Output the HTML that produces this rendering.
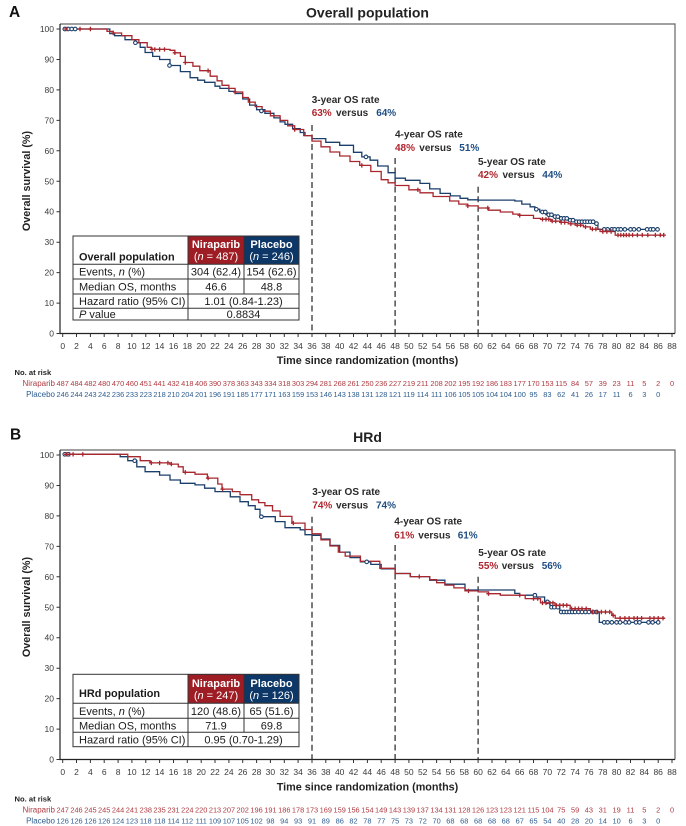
<!DOCTYPE html>
<html>
<head>
<meta charset="utf-8">
<style>
html,body{margin:0;padding:0;background:#fff;}
svg{display:block;}
text{font-family:"Liberation Sans",Arial,sans-serif;}
</style>
</head>
<body>
<svg width="686" height="826" viewBox="0 0 686 826" xmlns="http://www.w3.org/2000/svg">
<defs>
<path id="pl" d="M-2.2 0h4.4M0 -2.2v4.4" stroke="#a8262e" stroke-width="1.3" fill="none"/>
</defs>
<rect width="686" height="826" fill="#fff"/>

<!-- ================= PANEL A ================= -->
<text x="9" y="17" font-size="15.5" font-weight="bold" fill="#111">A</text>
<text x="367.5" y="17.5" font-size="14" font-weight="bold" fill="#222" text-anchor="middle">Overall population</text>

<!-- frame -->
<path d="M60 24H675V333.5" fill="none" stroke="#666" stroke-width="1.2"/>
<path d="M60 24V333.5H675" fill="none" stroke="#222" stroke-width="1.2"/>

<!-- y ticks -->
<path d="M56.5 29h3.5M56.5 59.5h3.5M56.5 89.9h3.5M56.5 120.4h3.5M56.5 150.8h3.5M56.5 181.3h3.5M56.5 211.7h3.5M56.5 242.2h3.5M56.5 272.6h3.5M56.5 303.1h3.5M56.5 333.5h3.5" stroke="#333" stroke-width="1"/>
<g font-size="8.5" fill="#3a3a3a" text-anchor="end">
<text x="54" y="32">100</text><text x="54" y="62.5">90</text><text x="54" y="92.9">80</text><text x="54" y="123.4">70</text><text x="54" y="153.8">60</text><text x="54" y="184.3">50</text><text x="54" y="214.7">40</text><text x="54" y="245.2">30</text><text x="54" y="275.6">20</text><text x="54" y="306.1">10</text><text x="54" y="336.5">0</text>
</g>
<text transform="translate(30,181) rotate(-90)" font-size="10.8" font-weight="bold" fill="#222" text-anchor="middle">Overall survival (%)</text>

<!-- x ticks -->
<path transform="translate(0,333.5)" d="M62.7 0v3.5M76.5 0v3.5M90.4 0v3.5M104.2 0v3.5M118.1 0v3.5M131.9 0v3.5M145.8 0v3.5M159.6 0v3.5M173.5 0v3.5M187.3 0v3.5M201.2 0v3.5M215 0v3.5M228.9 0v3.5M242.7 0v3.5M256.6 0v3.5M270.4 0v3.5M284.3 0v3.5M298.1 0v3.5M312 0v3.5M325.8 0v3.5M339.7 0v3.5M353.5 0v3.5M367.4 0v3.5M381.2 0v3.5M395.1 0v3.5M408.9 0v3.5M422.7 0v3.5M436.6 0v3.5M450.4 0v3.5M464.3 0v3.5M478.1 0v3.5M492 0v3.5M505.8 0v3.5M519.7 0v3.5M533.5 0v3.5M547.4 0v3.5M561.2 0v3.5M575.1 0v3.5M588.9 0v3.5M602.8 0v3.5M616.6 0v3.5M630.5 0v3.5M644.3 0v3.5M658.2 0v3.5M672 0v3.5" stroke="#333" stroke-width="1"/>
<text y="349" font-size="8.5" fill="#3a3a3a" text-anchor="middle"><tspan x="62.7">0</tspan><tspan x="76.5">2</tspan><tspan x="90.4">4</tspan><tspan x="104.2">6</tspan><tspan x="118.1">8</tspan><tspan x="131.9">10</tspan><tspan x="145.8">12</tspan><tspan x="159.6">14</tspan><tspan x="173.5">16</tspan><tspan x="187.3">18</tspan><tspan x="201.2">20</tspan><tspan x="215">22</tspan><tspan x="228.9">24</tspan><tspan x="242.7">26</tspan><tspan x="256.6">28</tspan><tspan x="270.4">30</tspan><tspan x="284.3">32</tspan><tspan x="298.1">34</tspan><tspan x="312">36</tspan><tspan x="325.8">38</tspan><tspan x="339.7">40</tspan><tspan x="353.5">42</tspan><tspan x="367.4">44</tspan><tspan x="381.2">46</tspan><tspan x="395.1">48</tspan><tspan x="408.9">50</tspan><tspan x="422.7">52</tspan><tspan x="436.6">54</tspan><tspan x="450.4">56</tspan><tspan x="464.3">58</tspan><tspan x="478.1">60</tspan><tspan x="492">62</tspan><tspan x="505.8">64</tspan><tspan x="519.7">66</tspan><tspan x="533.5">68</tspan><tspan x="547.4">70</tspan><tspan x="561.2">72</tspan><tspan x="575.1">74</tspan><tspan x="588.9">76</tspan><tspan x="602.8">78</tspan><tspan x="616.6">80</tspan><tspan x="630.5">82</tspan><tspan x="644.3">84</tspan><tspan x="658.2">86</tspan><tspan x="672">88</tspan></text>
<text x="367.5" y="364" font-size="10.8" font-weight="bold" fill="#222" text-anchor="middle">Time since randomization (months)</text>

<!-- dashed lines -->
<g stroke="#222" stroke-width="1.2" stroke-dasharray="6 3.5" fill="none">
<path d="M312 125V333.5"/><path d="M395.1 158V333.5"/><path d="M478.1 186.7V333.5"/>
</g>

<!-- annotations -->
<g font-size="10" font-weight="bold">
<text x="311.7" y="102.8" fill="#2a2a2a">3-year OS rate</text>
<text y="116.2"><tspan x="311.7" fill="#b0262e">63%</tspan><tspan x="336" fill="#2a2a2a">versus</tspan><tspan x="376.2" fill="#1f4e84">64%</tspan></text>
<text x="395" y="137.5" fill="#2a2a2a">4-year OS rate</text>
<text y="150.8"><tspan x="395" fill="#b0262e">48%</tspan><tspan x="419.3" fill="#2a2a2a">versus</tspan><tspan x="459.3" fill="#1f4e84">51%</tspan></text>
<text x="478" y="165.2" fill="#2a2a2a">5-year OS rate</text>
<text y="177.8"><tspan x="478" fill="#b0262e">42%</tspan><tspan x="502.5" fill="#2a2a2a">versus</tspan><tspan x="542.3" fill="#1f4e84">44%</tspan></text>
</g>

<!-- curves A -->
<path fill="none" stroke="#1a3f6b" stroke-width="1.3" d="M62.7 29H109.8V33.6H114.6V35.7H125V39.7H135.4V42.7H140.2V47.3H145.1V52.5H152.7V56.4H159.6V59.5H170V65.5H180.4V71.6H190.1V77.7H197.7V80.2H204.6V82.3H215V86.2H219.9V88.4H228.9V91.4H235.1V93.5H242.7V99H249.6V105.1H256.6V109.7H264.9V113.3H273.9V117.9H280.1V121.9H285V124.3H292.6V128.6H300.2V132.5H305V135.6H312V138.6H325.8V142.3H339.7V145.3H353.5V152.3H361.8V156.9H370.1V160.2H377.7V166H388.1V172.7H395.1V178.2H405.4V180.3H420V183.4H429.7V188.9H440.1V193.4H450.4V195.9H460.1V198.3H467.8V199.8H478.1V200.1H514.8V201H521.8V204.1H530.1V206.8H534.9V209.3H539.8V212H546V214.7H552.9V216.6H559.8V218.4H568.2V220.2H575.1V221.7H594.5V223.6H597.9V229.4H657.5"/>
<path fill="none" stroke="#a8262e" stroke-width="1.3" d="M62.7 29H107V31.4H113.2V33H121.6V35.7H131.9V39.7H138.9V42.7H147.2V47.3H151.3V49.4H170V50.3H174.9V52.8H180.4V56.4H185.3V62.5H192.9V66.2H199.8V70.7H210.2V76.2H217.1V80.8H222V85.3H228.9V88.4H235.1V92H242.7V97.5H248.3V102.1H255.2V106.6H262.1V111.2H270.4V115.8H280.1V120.4H287.7V125.8H294.7V129.5H303.7V135.6H312V141.1H321V146.8H330V152H339.7V156H350V161.5H359.7V165.4H370.8V171.5H381.2V179.7H388.1V182.8H395.1V185.5H408.9V189.8H420V192.8H433.1V196.5H449.7V201H458.8V204.1H467.8V205.9H478.1V208H488.5V210.2H500.3V212H512.8V214.1H519.7V215.4H533.5V218.4H540.5V219.3H550.8V221.1H559.8V222.4H568.2V223.9H575.1V225.1H583.4V226.9H590.3V229.1H600V231.5H615.2V235.1H663.7"/>

<!-- markers A -->
<g fill="#fff" stroke="#1a3f6b" stroke-width="1.1">
<circle cx="64.8" cy="29" r="1.8"/><circle cx="68.2" cy="29" r="1.8"/><circle cx="71.7" cy="29" r="1.8"/><circle cx="75.2" cy="29" r="1.8"/><circle cx="135.4" cy="42.7" r="1.8"/><circle cx="169.5" cy="65.5" r="1.8"/><circle cx="261.4" cy="111" r="1.8"/><circle cx="366" cy="156.9" r="1.8"/><circle cx="536.3" cy="209.3" r="1.8"/><circle cx="542.5" cy="212" r="1.8"/><circle cx="545.3" cy="212" r="1.8"/><circle cx="548.8" cy="214.7" r="1.8"/><circle cx="551.5" cy="214.7" r="1.8"/><circle cx="555" cy="216.6" r="1.8"/><circle cx="557.8" cy="216.6" r="1.8"/><circle cx="561.2" cy="218.4" r="1.8"/><circle cx="564" cy="218.4" r="1.8"/><circle cx="566.8" cy="218.4" r="1.8"/><circle cx="570.2" cy="220.2" r="1.8"/><circle cx="573" cy="220.2" r="1.8"/><circle cx="576.5" cy="221.7" r="1.8"/><circle cx="579.2" cy="221.7" r="1.8"/><circle cx="582" cy="221.7" r="1.8"/><circle cx="584.8" cy="221.7" r="1.8"/><circle cx="587.5" cy="221.7" r="1.8"/><circle cx="590.3" cy="221.7" r="1.8"/><circle cx="593.1" cy="221.7" r="1.8"/><circle cx="596.5" cy="223.6" r="1.8"/><circle cx="604.2" cy="229.4" r="1.8"/><circle cx="607.6" cy="229.4" r="1.8"/><circle cx="611.8" cy="229.4" r="1.8"/><circle cx="614.6" cy="229.4" r="1.8"/><circle cx="618" cy="229.4" r="1.8"/><circle cx="620.8" cy="229.4" r="1.8"/><circle cx="624.9" cy="229.4" r="1.8"/><circle cx="630.5" cy="229.4" r="1.8"/><circle cx="634" cy="229.4" r="1.8"/><circle cx="638.8" cy="229.4" r="1.8"/><circle cx="647.1" cy="229.4" r="1.8"/><circle cx="650.6" cy="229.4" r="1.8"/><circle cx="653.3" cy="229.4" r="1.8"/><circle cx="657.5" cy="229.4" r="1.8"/>
</g>
<g>
<use href="#pl" x="66" y="29"/><use href="#pl" x="80" y="29"/><use href="#pl" x="90.4" y="29"/><use href="#pl" x="113.2" y="33"/><use href="#pl" x="152" y="49.4"/><use href="#pl" x="154.8" y="49.4"/><use href="#pl" x="159.6" y="49.4"/><use href="#pl" x="164.5" y="49.4"/><use href="#pl" x="174.9" y="52.8"/><use href="#pl" x="185.3" y="62.5"/><use href="#pl" x="208.1" y="70.7"/><use href="#pl" x="235.1" y="92"/><use href="#pl" x="294.7" y="129.5"/><use href="#pl" x="361.8" y="165.4"/><use href="#pl" x="417.9" y="189.8"/><use href="#pl" x="467.8" y="205.9"/><use href="#pl" x="487.8" y="208"/><use href="#pl" x="519.7" y="215.4"/><use href="#pl" x="542.5" y="219.3"/><use href="#pl" x="546" y="219.3"/><use href="#pl" x="548.8" y="219.3"/><use href="#pl" x="552.2" y="221.1"/><use href="#pl" x="555.7" y="221.1"/><use href="#pl" x="561.2" y="222.4"/><use href="#pl" x="564.7" y="222.4"/><use href="#pl" x="570.9" y="223.9"/><use href="#pl" x="577.2" y="225.1"/><use href="#pl" x="580.6" y="225.1"/><use href="#pl" x="585.5" y="226.9"/><use href="#pl" x="592.4" y="229.1"/><use href="#pl" x="595.9" y="229.1"/><use href="#pl" x="602.8" y="231.5"/><use href="#pl" x="606.9" y="231.5"/><use href="#pl" x="611.1" y="231.5"/><use href="#pl" x="618" y="235.1"/><use href="#pl" x="620.8" y="235.1"/><use href="#pl" x="623.6" y="235.1"/><use href="#pl" x="626.3" y="235.1"/><use href="#pl" x="629.1" y="235.1"/><use href="#pl" x="632.6" y="235.1"/><use href="#pl" x="637.4" y="235.1"/><use href="#pl" x="642.3" y="235.1"/><use href="#pl" x="647.8" y="235.1"/><use href="#pl" x="655.4" y="235.1"/><use href="#pl" x="660.3" y="235.1"/><use href="#pl" x="663.7" y="235.1"/>
</g>

<!-- table A -->
<rect x="73" y="236" width="226" height="84" fill="#fff"/>
<rect x="188" y="236" width="56" height="28.3" fill="#9e1c24"/>
<rect x="244" y="236" width="55" height="28.3" fill="#0c3766"/>
<g stroke="#333" stroke-width="1" fill="none">
<rect x="73" y="236" width="226" height="84"/>
<path d="M73 264.3H299M73 279H299M73 294H299M73 308.3H299M188 236V320M244 236V294"/>
</g>
<g font-size="11" fill="#1a1a1a">
<text x="79" y="260.5" font-weight="bold" font-size="10.9">Overall population</text>
<text x="216" y="248" font-weight="bold" fill="#fff" text-anchor="middle">Niraparib</text>
<text x="216" y="260" fill="#fff" text-anchor="middle">(<tspan font-style="italic">n</tspan> = 487)</text>
<text x="271.5" y="248" font-weight="bold" fill="#fff" text-anchor="middle">Placebo</text>
<text x="271.5" y="260" fill="#fff" text-anchor="middle">(<tspan font-style="italic">n</tspan> = 246)</text>
<text x="79" y="275.6">Events, <tspan font-style="italic">n</tspan> (%)</text>
<text x="216" y="275.6" text-anchor="middle">304 (62.4)</text>
<text x="271.5" y="275.6" text-anchor="middle">154 (62.6)</text>
<text x="79" y="290.5">Median OS, months</text>
<text x="216" y="290.5" text-anchor="middle">46.6</text>
<text x="271.5" y="290.5" text-anchor="middle">48.8</text>
<text x="79" y="305.2">Hazard ratio (95% CI)</text>
<text x="243.5" y="305.2" text-anchor="middle">1.01 (0.84-1.23)</text>
<text x="79" y="318.2"><tspan font-style="italic">P</tspan> value</text>
<text x="243.5" y="318.2" text-anchor="middle">0.8834</text>
</g>

<!-- at risk A -->
<text x="14.5" y="375" font-size="7.6" font-weight="bold" fill="#222">No. at risk</text>
<text x="55" y="386" font-size="8" fill="#b03a40" text-anchor="end">Niraparib</text>
<text x="55" y="397" font-size="8" fill="#2e5d8f" text-anchor="end">Placebo</text>
<text y="386" font-size="7.4" fill="#b03a40" text-anchor="middle"><tspan x="62.7">487</tspan><tspan x="76.5">484</tspan><tspan x="90.4">482</tspan><tspan x="104.2">480</tspan><tspan x="118.1">470</tspan><tspan x="131.9">460</tspan><tspan x="145.8">451</tspan><tspan x="159.6">441</tspan><tspan x="173.5">432</tspan><tspan x="187.3">418</tspan><tspan x="201.2">406</tspan><tspan x="215">390</tspan><tspan x="228.9">378</tspan><tspan x="242.7">363</tspan><tspan x="256.6">343</tspan><tspan x="270.4">334</tspan><tspan x="284.3">318</tspan><tspan x="298.1">303</tspan><tspan x="312">294</tspan><tspan x="325.8">281</tspan><tspan x="339.7">268</tspan><tspan x="353.5">261</tspan><tspan x="367.4">250</tspan><tspan x="381.2">236</tspan><tspan x="395.1">227</tspan><tspan x="408.9">219</tspan><tspan x="422.7">211</tspan><tspan x="436.6">208</tspan><tspan x="450.4">202</tspan><tspan x="464.3">195</tspan><tspan x="478.1">192</tspan><tspan x="492">186</tspan><tspan x="505.8">183</tspan><tspan x="519.7">177</tspan><tspan x="533.5">170</tspan><tspan x="547.4">153</tspan><tspan x="561.2">115</tspan><tspan x="575.1">84</tspan><tspan x="588.9">57</tspan><tspan x="602.8">39</tspan><tspan x="616.6">23</tspan><tspan x="630.5">11</tspan><tspan x="644.3">5</tspan><tspan x="658.2">2</tspan><tspan x="672">0</tspan></text>
<text y="397" font-size="7.4" fill="#2e5d8f" text-anchor="middle"><tspan x="62.7">246</tspan><tspan x="76.5">244</tspan><tspan x="90.4">243</tspan><tspan x="104.2">242</tspan><tspan x="118.1">236</tspan><tspan x="131.9">233</tspan><tspan x="145.8">223</tspan><tspan x="159.6">218</tspan><tspan x="173.5">210</tspan><tspan x="187.3">204</tspan><tspan x="201.2">201</tspan><tspan x="215">196</tspan><tspan x="228.9">191</tspan><tspan x="242.7">185</tspan><tspan x="256.6">177</tspan><tspan x="270.4">171</tspan><tspan x="284.3">163</tspan><tspan x="298.1">159</tspan><tspan x="312">153</tspan><tspan x="325.8">146</tspan><tspan x="339.7">143</tspan><tspan x="353.5">138</tspan><tspan x="367.4">131</tspan><tspan x="381.2">128</tspan><tspan x="395.1">121</tspan><tspan x="408.9">119</tspan><tspan x="422.7">114</tspan><tspan x="436.6">111</tspan><tspan x="450.4">106</tspan><tspan x="464.3">105</tspan><tspan x="478.1">105</tspan><tspan x="492">104</tspan><tspan x="505.8">104</tspan><tspan x="519.7">100</tspan><tspan x="533.5">95</tspan><tspan x="547.4">83</tspan><tspan x="561.2">62</tspan><tspan x="575.1">41</tspan><tspan x="588.9">26</tspan><tspan x="602.8">17</tspan><tspan x="616.6">11</tspan><tspan x="630.5">6</tspan><tspan x="644.3">3</tspan><tspan x="658.2">0</tspan></text>

<!-- ================= PANEL B ================= -->
<text x="10" y="439.5" font-size="15.5" font-weight="bold" fill="#111">B</text>
<text x="367.5" y="442" font-size="14" font-weight="bold" fill="#222" text-anchor="middle">HRd</text>

<path d="M60 450H675V759.5" fill="none" stroke="#666" stroke-width="1.2"/>
<path d="M60 450V759.5H675" fill="none" stroke="#222" stroke-width="1.2"/>

<path d="M56.5 455h3.5M56.5 485.5h3.5M56.5 515.9h3.5M56.5 546.4h3.5M56.5 576.8h3.5M56.5 607.3h3.5M56.5 637.7h3.5M56.5 668.2h3.5M56.5 698.6h3.5M56.5 729.1h3.5M56.5 759.5h3.5" stroke="#333" stroke-width="1"/>
<g font-size="8.5" fill="#3a3a3a" text-anchor="end">
<text x="54" y="458">100</text><text x="54" y="488.5">90</text><text x="54" y="518.9">80</text><text x="54" y="549.4">70</text><text x="54" y="579.8">60</text><text x="54" y="610.3">50</text><text x="54" y="640.7">40</text><text x="54" y="671.2">30</text><text x="54" y="701.6">20</text><text x="54" y="732.1">10</text><text x="54" y="762.5">0</text>
</g>
<text transform="translate(30,607) rotate(-90)" font-size="10.8" font-weight="bold" fill="#222" text-anchor="middle">Overall survival (%)</text>

<path transform="translate(0,759.5)" d="M62.7 0v3.5M76.5 0v3.5M90.4 0v3.5M104.2 0v3.5M118.1 0v3.5M131.9 0v3.5M145.8 0v3.5M159.6 0v3.5M173.5 0v3.5M187.3 0v3.5M201.2 0v3.5M215 0v3.5M228.9 0v3.5M242.7 0v3.5M256.6 0v3.5M270.4 0v3.5M284.3 0v3.5M298.1 0v3.5M312 0v3.5M325.8 0v3.5M339.7 0v3.5M353.5 0v3.5M367.4 0v3.5M381.2 0v3.5M395.1 0v3.5M408.9 0v3.5M422.7 0v3.5M436.6 0v3.5M450.4 0v3.5M464.3 0v3.5M478.1 0v3.5M492 0v3.5M505.8 0v3.5M519.7 0v3.5M533.5 0v3.5M547.4 0v3.5M561.2 0v3.5M575.1 0v3.5M588.9 0v3.5M602.8 0v3.5M616.6 0v3.5M630.5 0v3.5M644.3 0v3.5M658.2 0v3.5M672 0v3.5" stroke="#333" stroke-width="1"/>
<text y="775" font-size="8.5" fill="#3a3a3a" text-anchor="middle"><tspan x="62.7">0</tspan><tspan x="76.5">2</tspan><tspan x="90.4">4</tspan><tspan x="104.2">6</tspan><tspan x="118.1">8</tspan><tspan x="131.9">10</tspan><tspan x="145.8">12</tspan><tspan x="159.6">14</tspan><tspan x="173.5">16</tspan><tspan x="187.3">18</tspan><tspan x="201.2">20</tspan><tspan x="215">22</tspan><tspan x="228.9">24</tspan><tspan x="242.7">26</tspan><tspan x="256.6">28</tspan><tspan x="270.4">30</tspan><tspan x="284.3">32</tspan><tspan x="298.1">34</tspan><tspan x="312">36</tspan><tspan x="325.8">38</tspan><tspan x="339.7">40</tspan><tspan x="353.5">42</tspan><tspan x="367.4">44</tspan><tspan x="381.2">46</tspan><tspan x="395.1">48</tspan><tspan x="408.9">50</tspan><tspan x="422.7">52</tspan><tspan x="436.6">54</tspan><tspan x="450.4">56</tspan><tspan x="464.3">58</tspan><tspan x="478.1">60</tspan><tspan x="492">62</tspan><tspan x="505.8">64</tspan><tspan x="519.7">66</tspan><tspan x="533.5">68</tspan><tspan x="547.4">70</tspan><tspan x="561.2">72</tspan><tspan x="575.1">74</tspan><tspan x="588.9">76</tspan><tspan x="602.8">78</tspan><tspan x="616.6">80</tspan><tspan x="630.5">82</tspan><tspan x="644.3">84</tspan><tspan x="658.2">86</tspan><tspan x="672">88</tspan></text>
<text x="367.5" y="790.5" font-size="10.8" font-weight="bold" fill="#222" text-anchor="middle">Time since randomization (months)</text>

<g stroke="#222" stroke-width="1.2" stroke-dasharray="6 3.5" fill="none">
<path d="M312 516.7V759.5"/><path d="M395.1 545V759.5"/><path d="M478.1 576.7V759.5"/>
</g>

<g font-size="10" font-weight="bold">
<text x="312.3" y="495.2" fill="#2a2a2a">3-year OS rate</text>
<text y="508.5"><tspan x="312.3" fill="#b0262e">74%</tspan><tspan x="336" fill="#2a2a2a">versus</tspan><tspan x="376" fill="#1f4e84">74%</tspan></text>
<text x="394.3" y="524.5" fill="#2a2a2a">4-year OS rate</text>
<text y="538.5"><tspan x="394.3" fill="#b0262e">61%</tspan><tspan x="418.3" fill="#2a2a2a">versus</tspan><tspan x="457.7" fill="#1f4e84">61%</tspan></text>
<text x="478.3" y="555.8" fill="#2a2a2a">5-year OS rate</text>
<text y="569.2"><tspan x="478.3" fill="#b0262e">55%</tspan><tspan x="501.7" fill="#2a2a2a">versus</tspan><tspan x="541.7" fill="#1f4e84">56%</tspan></text>
</g>

<!-- curves B -->
<path fill="none" stroke="#1a3f6b" stroke-width="1.3" d="M62.7 454.3H120.2V456.7H127.8V460.7H136.8V466.8H145.1V471.7H159.6V475.1H170V480H180.4V483.3H195V484.9H204.6V488.2H215V491.6H230.3V496.8H240V501.7H248.3V505.7H255.2V509.3H260V516.7H275.3V521.6H285V527.7H300.2V529.8H305V534.7H312V535.3H321V539H330V545.4H339.7V552.1H350V557.6H360.4V561.9H370.8V564.4H381.2V568.9H395.1V573.5H410.3V576.6H429.7V580.2H444.9V584.2H465V590H514.8V593.4H519.7V595.2H534.9V597H544.6V601.9H550.1V607.2H559.8V612H599.3V622.4H658.2"/>
<path fill="none" stroke="#a8262e" stroke-width="1.3" d="M62.7 454.3H127.8V456.7H140.2V460.7H150V462.9H170V464.1H178.3V466.8H183.2V472.3H195V474.2H207.4V478.1H217.8V484H222V489.1H232.3V491.6H240V494.7H251.7V499.8H258.6V502.6H264.9V505.7H272.5V510.9H280.1V516.4H291.9V523.1H305V529.5H312V533.8H321V539.9H330V546H338.3V552.1H345.2V556.1H360.4V561.3H379.8V568.3H395.1V573.5H410.3V576.6H429.7V579.6H436.6V582.7H444.9V585.1H453.9V587.9H465V590.9H478.1V591.9H488.5V593.7H500.3V595.2H525.2V598.6H540.5V602.9H555V605.3H570.2V608.7H590.3V612H611.8V615.4H615.2V618.2H665.1"/>

<g fill="#fff" stroke="#1a3f6b" stroke-width="1.1">
<circle cx="64.8" cy="454.3" r="1.8"/><circle cx="68.2" cy="454.3" r="1.8"/><circle cx="134.7" cy="460.7" r="1.8"/><circle cx="261.4" cy="516.7" r="1.8"/><circle cx="366.7" cy="561.9" r="1.8"/><circle cx="534.9" cy="595.2" r="1.8"/><circle cx="547.4" cy="601.9" r="1.8"/><circle cx="551.5" cy="607.2" r="1.8"/><circle cx="554.3" cy="607.2" r="1.8"/><circle cx="557.8" cy="607.2" r="1.8"/><circle cx="561.2" cy="612" r="1.8"/><circle cx="564" cy="612" r="1.8"/><circle cx="566.8" cy="612" r="1.8"/><circle cx="569.5" cy="612" r="1.8"/><circle cx="572.3" cy="612" r="1.8"/><circle cx="575.1" cy="612" r="1.8"/><circle cx="578.5" cy="612" r="1.8"/><circle cx="582" cy="612" r="1.8"/><circle cx="585.5" cy="612" r="1.8"/><circle cx="588.9" cy="612" r="1.8"/><circle cx="593.1" cy="612" r="1.8"/><circle cx="596.5" cy="612" r="1.8"/><circle cx="604.2" cy="622.4" r="1.8"/><circle cx="607.6" cy="622.4" r="1.8"/><circle cx="611.8" cy="622.4" r="1.8"/><circle cx="616.6" cy="622.4" r="1.8"/><circle cx="620.1" cy="622.4" r="1.8"/><circle cx="625.6" cy="622.4" r="1.8"/><circle cx="629.1" cy="622.4" r="1.8"/><circle cx="636" cy="622.4" r="1.8"/><circle cx="639.5" cy="622.4" r="1.8"/><circle cx="648.5" cy="622.4" r="1.8"/><circle cx="652.6" cy="622.4" r="1.8"/><circle cx="658.2" cy="622.4" r="1.8"/>
</g>
<g>
<use href="#pl" x="66.2" y="454.3"/><use href="#pl" x="69.6" y="454.3"/><use href="#pl" x="73.1" y="454.3"/><use href="#pl" x="82.8" y="454.3"/><use href="#pl" x="151.3" y="462.9"/><use href="#pl" x="159.6" y="462.9"/><use href="#pl" x="167.9" y="462.9"/><use href="#pl" x="171.4" y="464.1"/><use href="#pl" x="185.3" y="472.3"/><use href="#pl" x="208.1" y="478.1"/><use href="#pl" x="222.6" y="489.1"/><use href="#pl" x="293.3" y="523.1"/><use href="#pl" x="419.3" y="576.6"/><use href="#pl" x="468.5" y="590.9"/><use href="#pl" x="488.5" y="593.7"/><use href="#pl" x="519.7" y="595.2"/><use href="#pl" x="533.5" y="598.6"/><use href="#pl" x="537.7" y="598.6"/><use href="#pl" x="542.5" y="602.9"/><use href="#pl" x="546" y="602.9"/><use href="#pl" x="549.5" y="602.9"/><use href="#pl" x="552.9" y="602.9"/><use href="#pl" x="556.4" y="605.3"/><use href="#pl" x="559.8" y="605.3"/><use href="#pl" x="563.3" y="605.3"/><use href="#pl" x="566.8" y="605.3"/><use href="#pl" x="571.6" y="608.7"/><use href="#pl" x="575.1" y="608.7"/><use href="#pl" x="578.5" y="608.7"/><use href="#pl" x="582" y="608.7"/><use href="#pl" x="586.2" y="608.7"/><use href="#pl" x="592.4" y="612"/><use href="#pl" x="597.2" y="612"/><use href="#pl" x="601.4" y="612"/><use href="#pl" x="605.5" y="612"/><use href="#pl" x="609.7" y="612"/><use href="#pl" x="613.2" y="615.4"/><use href="#pl" x="620.1" y="618.2"/><use href="#pl" x="624.9" y="618.2"/><use href="#pl" x="629.1" y="618.2"/><use href="#pl" x="634" y="618.2"/><use href="#pl" x="637.4" y="618.2"/><use href="#pl" x="641.6" y="618.2"/><use href="#pl" x="649.9" y="618.2"/><use href="#pl" x="654" y="618.2"/><use href="#pl" x="658.2" y="618.2"/><use href="#pl" x="663" y="618.2"/>
</g>

<!-- table B -->
<rect x="73" y="674.3" width="226" height="72.4" fill="#fff"/>
<rect x="188" y="674.3" width="56" height="29" fill="#9e1c24"/>
<rect x="244" y="674.3" width="55" height="29" fill="#0c3766"/>
<g stroke="#333" stroke-width="1" fill="none">
<rect x="73" y="674.3" width="226" height="72.4"/>
<path d="M73 703.3H299M73 718.3H299M73 732.3H299M188 674.3V746.7M244 674.3V732.3"/>
</g>
<g font-size="11" fill="#1a1a1a">
<text x="79" y="697" font-weight="bold" font-size="10.9">HRd population</text>
<text x="216" y="687" font-weight="bold" fill="#fff" text-anchor="middle">Niraparib</text>
<text x="216" y="699" fill="#fff" text-anchor="middle">(<tspan font-style="italic">n</tspan> = 247)</text>
<text x="271.5" y="687" font-weight="bold" fill="#fff" text-anchor="middle">Placebo</text>
<text x="271.5" y="699" fill="#fff" text-anchor="middle">(<tspan font-style="italic">n</tspan> = 126)</text>
<text x="79" y="714.8">Events, <tspan font-style="italic">n</tspan> (%)</text>
<text x="216" y="714.8" text-anchor="middle">120 (48.6)</text>
<text x="271.5" y="714.8" text-anchor="middle">65 (51.6)</text>
<text x="79" y="729.3">Median OS, months</text>
<text x="216" y="729.3" text-anchor="middle">71.9</text>
<text x="271.5" y="729.3" text-anchor="middle">69.8</text>
<text x="79" y="743.5">Hazard ratio (95% CI)</text>
<text x="243.5" y="743.5" text-anchor="middle">0.95 (0.70-1.29)</text>
</g>

<!-- at risk B -->
<text x="14.5" y="801.5" font-size="7.6" font-weight="bold" fill="#222">No. at risk</text>
<text x="55" y="812.5" font-size="8" fill="#b03a40" text-anchor="end">Niraparib</text>
<text x="55" y="823.5" font-size="8" fill="#2e5d8f" text-anchor="end">Placebo</text>
<text y="812.5" font-size="7.4" fill="#b03a40" text-anchor="middle"><tspan x="62.7">247</tspan><tspan x="76.5">246</tspan><tspan x="90.4">245</tspan><tspan x="104.2">245</tspan><tspan x="118.1">244</tspan><tspan x="131.9">241</tspan><tspan x="145.8">238</tspan><tspan x="159.6">235</tspan><tspan x="173.5">231</tspan><tspan x="187.3">224</tspan><tspan x="201.2">220</tspan><tspan x="215">213</tspan><tspan x="228.9">207</tspan><tspan x="242.7">202</tspan><tspan x="256.6">196</tspan><tspan x="270.4">191</tspan><tspan x="284.3">186</tspan><tspan x="298.1">178</tspan><tspan x="312">173</tspan><tspan x="325.8">169</tspan><tspan x="339.7">159</tspan><tspan x="353.5">156</tspan><tspan x="367.4">154</tspan><tspan x="381.2">149</tspan><tspan x="395.1">143</tspan><tspan x="408.9">139</tspan><tspan x="422.7">137</tspan><tspan x="436.6">134</tspan><tspan x="450.4">131</tspan><tspan x="464.3">128</tspan><tspan x="478.1">126</tspan><tspan x="492">123</tspan><tspan x="505.8">123</tspan><tspan x="519.7">121</tspan><tspan x="533.5">115</tspan><tspan x="547.4">104</tspan><tspan x="561.2">75</tspan><tspan x="575.1">59</tspan><tspan x="588.9">43</tspan><tspan x="602.8">31</tspan><tspan x="616.6">19</tspan><tspan x="630.5">11</tspan><tspan x="644.3">5</tspan><tspan x="658.2">2</tspan><tspan x="672">0</tspan></text>
<text y="823.5" font-size="7.4" fill="#2e5d8f" text-anchor="middle"><tspan x="62.7">126</tspan><tspan x="76.5">126</tspan><tspan x="90.4">126</tspan><tspan x="104.2">126</tspan><tspan x="118.1">124</tspan><tspan x="131.9">123</tspan><tspan x="145.8">118</tspan><tspan x="159.6">118</tspan><tspan x="173.5">114</tspan><tspan x="187.3">112</tspan><tspan x="201.2">111</tspan><tspan x="215">109</tspan><tspan x="228.9">107</tspan><tspan x="242.7">105</tspan><tspan x="256.6">102</tspan><tspan x="270.4">98</tspan><tspan x="284.3">94</tspan><tspan x="298.1">93</tspan><tspan x="312">91</tspan><tspan x="325.8">89</tspan><tspan x="339.7">86</tspan><tspan x="353.5">82</tspan><tspan x="367.4">78</tspan><tspan x="381.2">77</tspan><tspan x="395.1">75</tspan><tspan x="408.9">73</tspan><tspan x="422.7">72</tspan><tspan x="436.6">70</tspan><tspan x="450.4">68</tspan><tspan x="464.3">68</tspan><tspan x="478.1">68</tspan><tspan x="492">68</tspan><tspan x="505.8">68</tspan><tspan x="519.7">67</tspan><tspan x="533.5">65</tspan><tspan x="547.4">54</tspan><tspan x="561.2">40</tspan><tspan x="575.1">28</tspan><tspan x="588.9">20</tspan><tspan x="602.8">14</tspan><tspan x="616.6">10</tspan><tspan x="630.5">6</tspan><tspan x="644.3">3</tspan><tspan x="658.2">0</tspan></text>
</svg>
</body>
</html>
